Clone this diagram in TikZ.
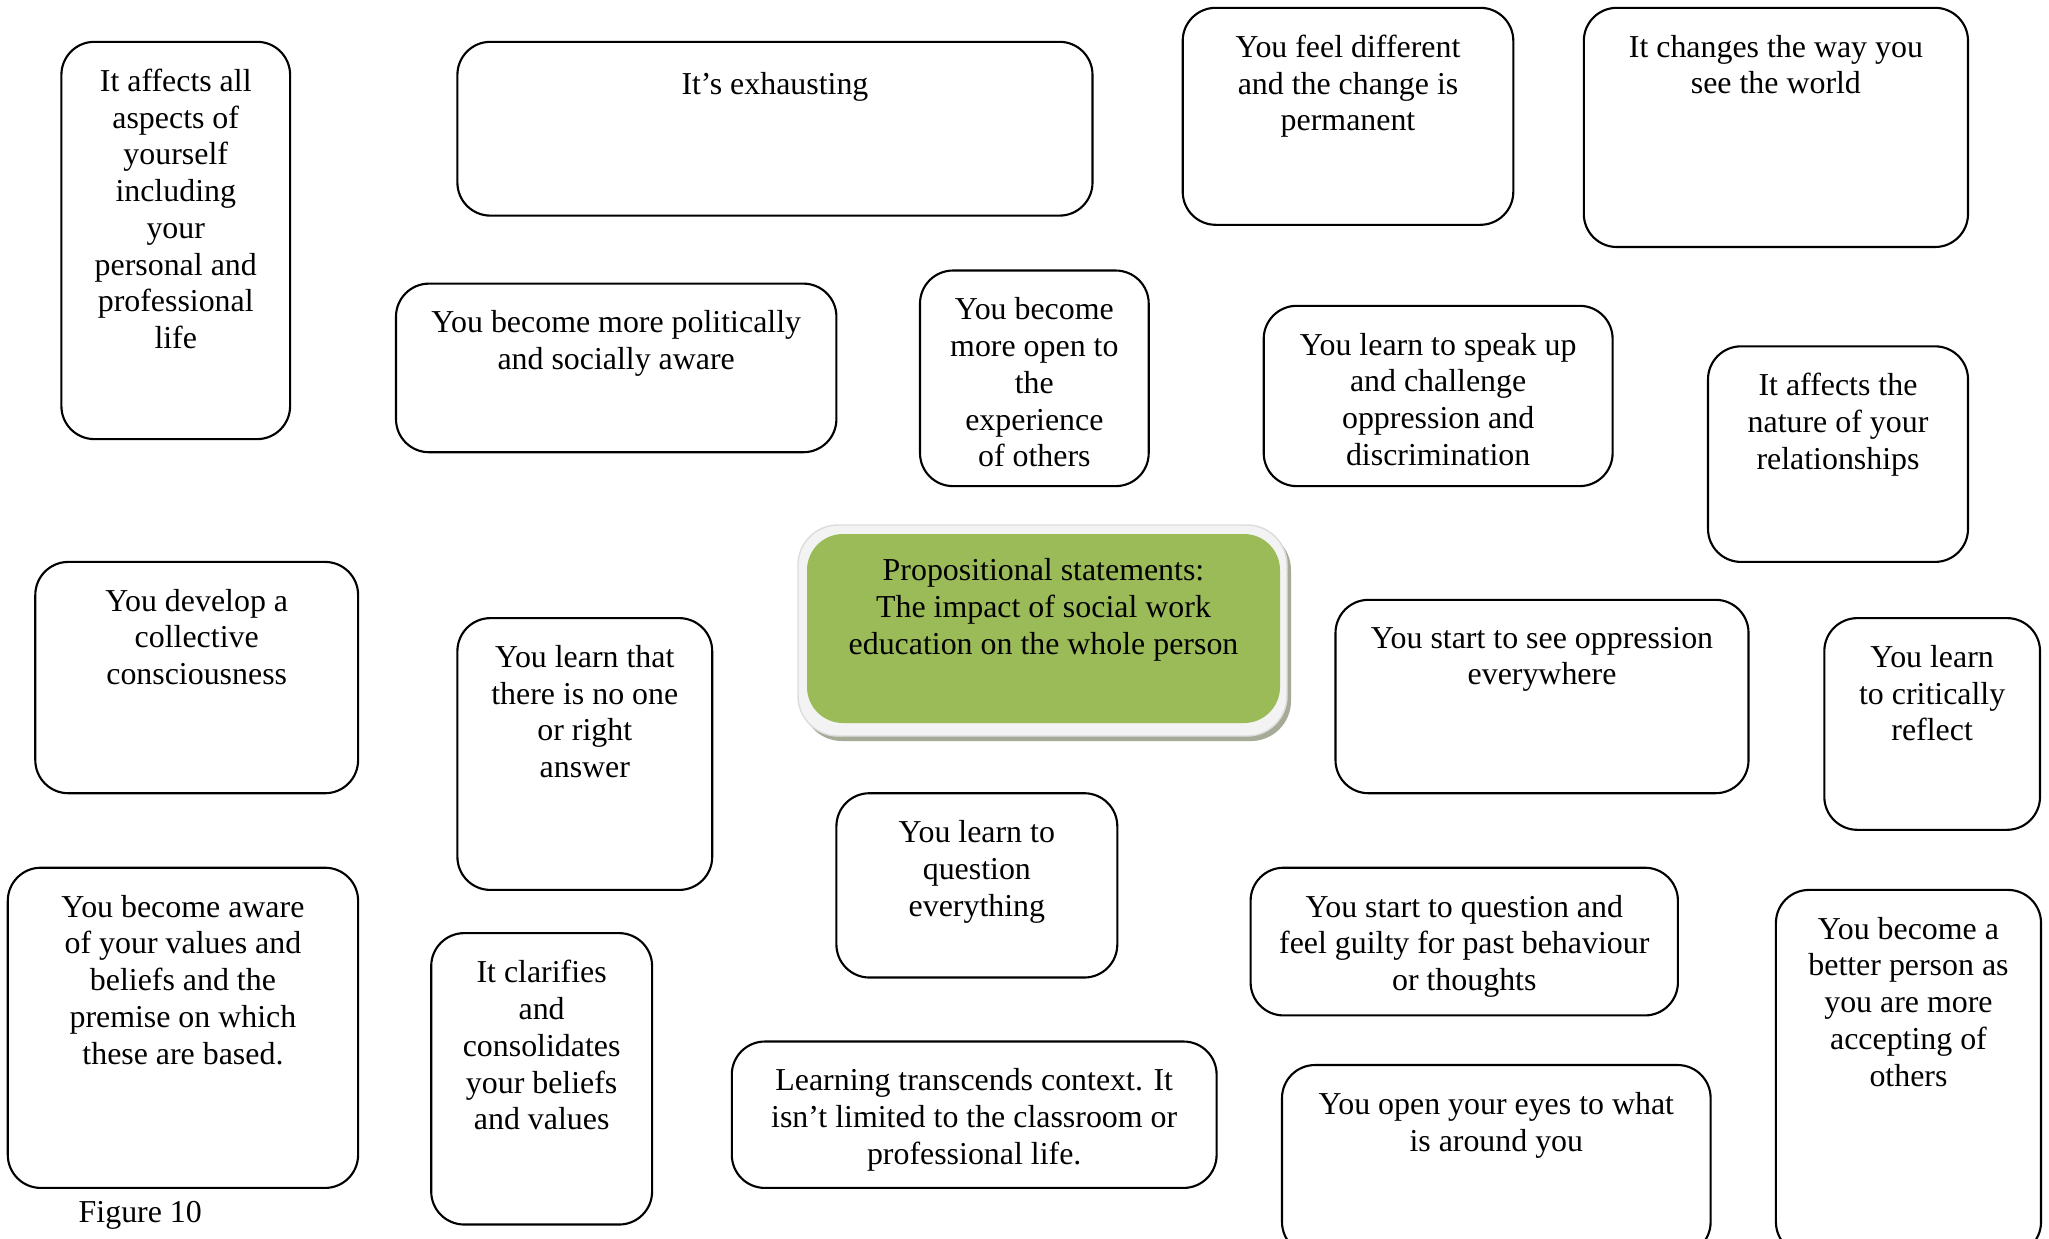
\documentclass[tikz,border=0pt]{standalone}
\usepackage{fontspec}
\setmainfont{Liberation Serif}
\usetikzlibrary{fit}

\definecolor{cardgreen}{HTML}{9BBB59}
\definecolor{rimgray}{HTML}{F3F3F3}
\definecolor{rimedge}{HTML}{DCDCDC}
\definecolor{shadowgray}{HTML}{A6AB98}

\tikzset{
  card/.style={draw=black, line width=0.6pt, rounded corners=0.33cm, inner sep=0pt, fill=white},
  lbl/.style={font=\fontsize{9.07pt}{10.45pt}\selectfont, align=center, inner sep=0pt,
              anchor=north, execute at begin node=\strut},
}

% #1 name, (#2,#3) top-left, (#4,#5) bottom-right, #6 text (top aligned)
\newcommand\stmtbox[6]{%
  \node[card, fit={(#2,#3) (#4,#5)}] (#1) {};
  \node[lbl] (#1-text) at ([yshift=-0.275cm]#1.north) {#6};
}

\begin{document}
\begin{tikzpicture}[x=0.01cm, y=-0.01cm]
  \useasboundingbox (0,0) rectangle (2049,1238);
  \fill[white] (0,0) rectangle (2049,1238);
  \clip (0,0) rectangle (2049,1238);

  % central statement with bevelled frame
  \node[fill=shadowgray, rounded corners=0.4cm, inner sep=0pt, fit={(802,530) (1291,741)}] (hubshadow) {};
  \node[fill=rimgray, draw=rimedge, line width=0.4pt, rounded corners=0.4cm, inner sep=0pt,
        fit={(798,525) (1287,736)}] (hubrim) {};
  \node[fill=cardgreen, rounded corners=0.36cm, inner sep=0pt, fit={(807,534) (1280,723)}] (hub) {};
  \node[lbl] (hub-text) at ([yshift=-0.245cm]hub.north)
    {Propositional statements:\\The impact of social work\\education on the whole person};

  % surrounding statements
  \stmtbox{aspects}{61.4}{41.8}{290.1}{439.1}{It affects all\\aspects of\\yourself\\including\\your\\personal and\\professional\\life}
  \stmtbox{exhaust}{457.4}{41.8}{1092.5}{215.6}{It’s exhausting}
  \stmtbox{different}{1182.7}{7.8}{1513.3}{224.8}{You feel different\\and the change is\\permanent}
  \stmtbox{worldview}{1583.8}{7.8}{1968.0}{247.0}{It changes the way you\\see the world}
  \stmtbox{aware}{396.0}{283.6}{836.4}{452.2}{You become more politically\\and socially aware}
  \stmtbox{open}{920.0}{270.5}{1148.7}{486.1}{You become\\more open to\\the\\experience\\of others}
  \stmtbox{speak}{1263.7}{305.8}{1612.6}{486.1}{You learn to speak up\\and challenge\\oppression and\\discrimination}
  \stmtbox{relations}{1708.0}{346.3}{1968.0}{561.9}{It affects the\\nature of your\\relationships}
  \stmtbox{collective}{35.3}{561.9}{358.1}{793.2}{You develop a\\collective\\consciousness}
  \stmtbox{noanswer}{457.4}{618.1}{712.2}{889.9}{You learn that\\there is no one\\or right\\answer}
  \stmtbox{seeoppr}{1335.5}{599.8}{1748.5}{793.2}{You start to see oppression\\everywhere}
  \stmtbox{reflect}{1824.3}{618.1}{2040.0}{829.8}{You learn\\to critically\\reflect}
  \stmtbox{question}{836.4}{793.2}{1117.3}{977.5}{You learn to\\question\\everything}
  \stmtbox{values}{7.8}{867.7}{358.1}{1187.9}{You become aware\\of your values and\\beliefs and the\\premise on which\\these are based.}
  \stmtbox{clarifies}{431.2}{933.1}{652.1}{1224.5}{It clarifies\\and\\consolidates\\your beliefs\\and values}
  \stmtbox{guilty}{1250.6}{867.7}{1677.9}{1015.4}{You start to question and\\feel guilty for past behaviour\\or thoughts}
  \stmtbox{better}{1775.9}{889.9}{2041.0}{1255.0}{You become a\\better person as\\you are more\\accepting of\\others}
  \stmtbox{context}{731.8}{1041.5}{1216.6}{1187.9}{Learning transcends context. It\\isn’t limited to the classroom or\\professional life.}
  \stmtbox{eyes}{1282.0}{1065.0}{1710.6}{1255.0}{You open your eyes to what\\is around you}

  \node[lbl, anchor=base west, execute at begin node={}] (caption) at (78,1222) {Figure 10};
\end{tikzpicture}
\end{document}
